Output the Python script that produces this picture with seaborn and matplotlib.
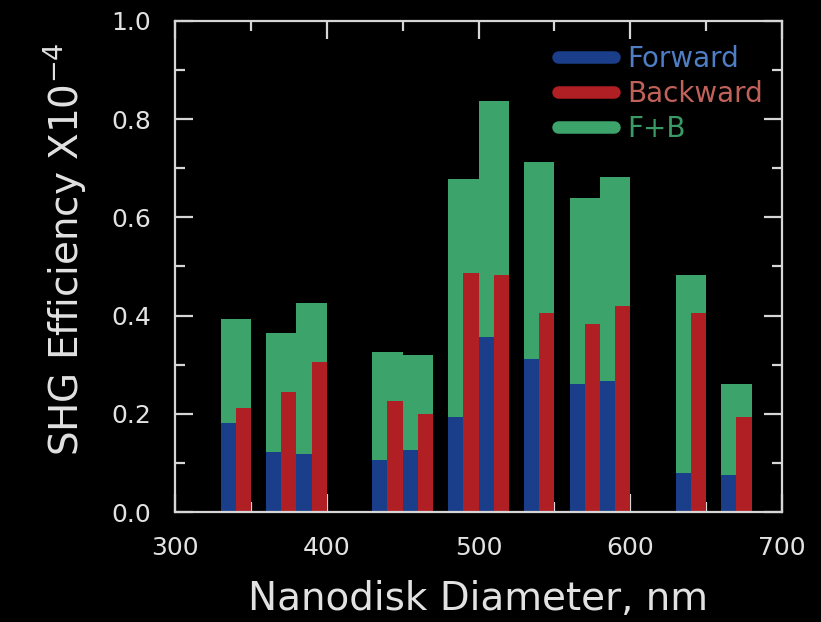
import matplotlib
matplotlib.use("Agg")
import matplotlib.pyplot as plt
from matplotlib.lines import Line2D
from matplotlib.ticker import MultipleLocator, FormatStrFormatter
import pandas as pd
import seaborn as sns

# Nanodisk diameters (nm) and SHG efficiencies (x1e-4)
diameters = [340, 370, 390, 440, 460, 490, 510, 540, 570, 590, 640, 670]
forward = [0.182, 0.123, 0.118, 0.106, 0.126, 0.194, 0.357, 0.311, 0.260, 0.267, 0.080, 0.075]
backward = [0.211, 0.245, 0.306, 0.227, 0.199, 0.486, 0.483, 0.405, 0.383, 0.420, 0.405, 0.194]
total = [0.393, 0.364, 0.425, 0.325, 0.319, 0.678, 0.837, 0.712, 0.639, 0.682, 0.483, 0.260]

series_names = ["Forward", "Backward", "F+B"]
bar_colors = {"Forward": "#1b3e8a", "Backward": "#b01f24", "F+B": "#3ca46b"}
text_colors = {"Forward": "#4f7ec4", "Backward": "#c0625a", "F+B": "#3a9a66"}
fg = "#e2e2e2"
axis_col = "#d6d6d6"

sns.set_theme(style="dark", rc={
    "figure.facecolor": "black",
    "axes.facecolor": "black",
    "axes.edgecolor": axis_col,
    "axes.linewidth": 1.6,
    "text.color": fg,
    "axes.labelcolor": fg,
    "xtick.color": axis_col,
    "ytick.color": axis_col,
})
plt.rcParams["font.family"] = ["DejaVu Sans"]
plt.rcParams["mathtext.default"] = "regular"

split = pd.DataFrame({
    "diameter": diameters * 2,
    "value": forward + backward,
    "direction": ["Forward"] * len(diameters) + ["Backward"] * len(diameters),
})
combined = pd.DataFrame({"diameter": diameters, "value": total})

fig = plt.figure(figsize=(8.21, 6.22), dpi=100)
ax = fig.add_axes([175 / 821, 110 / 622, 607 / 821, 491 / 622])
ax.set_axisbelow(True)

# Combined signal as full-width bars, forward/backward split side by side on top
sns.barplot(data=combined, x="diameter", y="value", native_scale=True, width=1.0,
            color=bar_colors["F+B"], saturation=1, linewidth=0, errorbar=None, ax=ax)
sns.barplot(data=split, x="diameter", y="value", hue="direction",
            hue_order=["Forward", "Backward"], palette=bar_colors, native_scale=True,
            width=1.0, dodge=True, saturation=1, linewidth=0, errorbar=None,
            legend=False, ax=ax)

ax.set_xlim(300, 700)
ax.set_ylim(0, 1.0)
ax.xaxis.set_major_locator(MultipleLocator(100))
ax.xaxis.set_minor_locator(MultipleLocator(50))
ax.yaxis.set_major_locator(MultipleLocator(0.2))
ax.yaxis.set_minor_locator(MultipleLocator(0.1))
ax.yaxis.set_major_formatter(FormatStrFormatter("%.1f"))
ax.tick_params(which="both", direction="in", top=True, right=True, bottom=True, left=True,
               width=1.6, labelsize=18, labelcolor=fg, pad=17)
ax.tick_params(which="major", length=13)
ax.tick_params(which="minor", length=7.5)
ax.grid(False)
for s in ax.spines.values():
    s.set_visible(True)
    s.set_color(axis_col)
    s.set_linewidth(1.6)

ax.set_xlabel("Nanodisk Diameter, nm", fontsize=28, color=fg, labelpad=15)
ax.set_ylabel("SHG Efficiency X10$^{-4}$", fontsize=28, color=fg, labelpad=17)
ax.yaxis.label.set_y(0.535)

handles = [Line2D([0], [0], color=bar_colors[n], lw=9, solid_capstyle="round")
           for n in series_names]
leg = ax.legend(handles, series_names, loc="upper left", bbox_to_anchor=(0.631, 0.952),
                frameon=False, fontsize=20, handlelength=2.0, handletextpad=0.5,
                labelspacing=0.26, borderpad=0, borderaxespad=0)
for txt, n in zip(leg.get_texts(), series_names):
    txt.set_color(text_colors[n])

fig.savefig("out.png", dpi=100, facecolor="black")
